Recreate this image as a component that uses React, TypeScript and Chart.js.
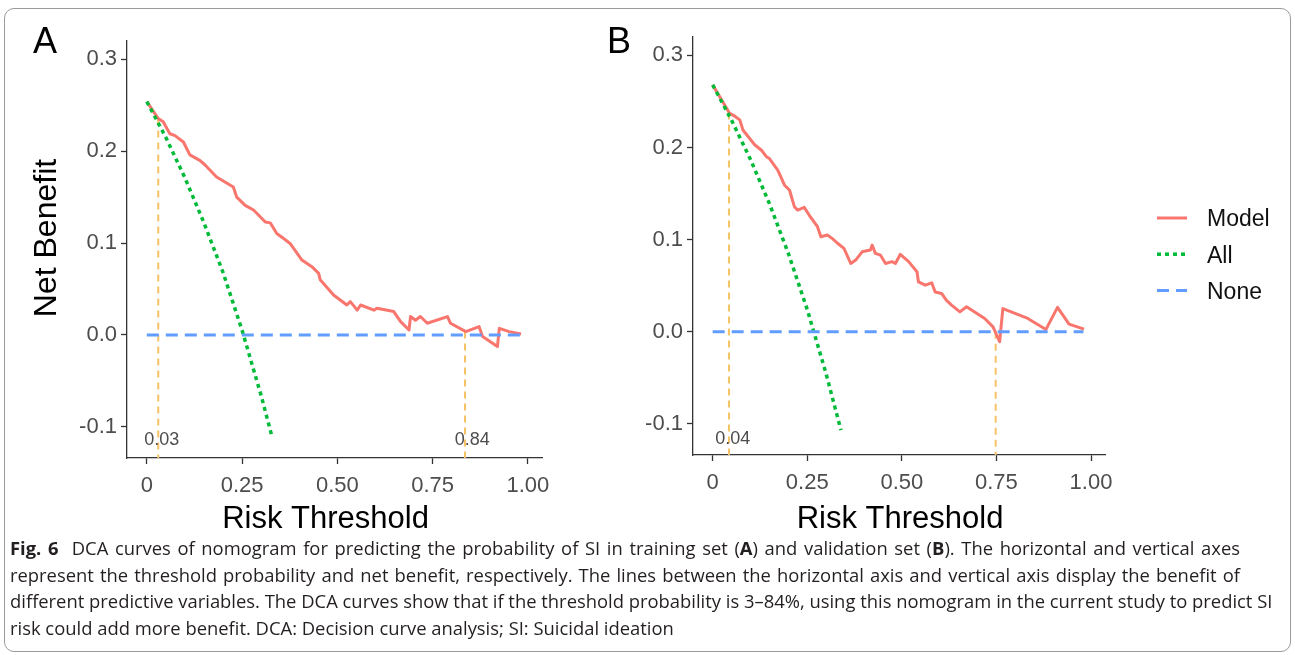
import React, { useEffect, useRef } from "react";
import { Chart, registerables } from "chart.js";

Chart.register(...registerables);

type Pt = [number, number];

// ---------- axes ----------
const xTickValues = [0, 0.25, 0.5, 0.75, 1.0];
const xTickLabels = ["0", "0.25", "0.50", "0.75", "1.00"];
const yTickValues = [-0.1, 0, 0.1, 0.2, 0.3];
const yTickLabels = ["-0.1", "0.0", "0.1", "0.2", "0.3"];
const xRange: Pt = [-0.052, 1.037];
const yRange: Pt = [-0.134, 0.32];
const xTitle = "Risk Threshold";
const yTitle = "Net Benefit";

const seriesNames = ["Model", "All", "None"];

// ---------- panel A (training set) ----------
const modelA: Pt[] = [
  [0, 0.254], [0.03, 0.2355], [0.043, 0.232], [0.0605, 0.219], [0.074, 0.217],
  [0.096, 0.21], [0.113, 0.196], [0.139, 0.19], [0.153, 0.185], [0.183, 0.172],
  [0.227, 0.161], [0.236, 0.15], [0.258, 0.141], [0.28, 0.136], [0.311, 0.123],
  [0.324, 0.122], [0.341, 0.1105], [0.359, 0.105], [0.376, 0.0996], [0.407, 0.0815],
  [0.433, 0.0743], [0.451, 0.067], [0.455, 0.06], [0.49, 0.0435], [0.525, 0.0326],
  [0.534, 0.0362], [0.552, 0.027], [0.561, 0.0326], [0.596, 0.027], [0.604, 0.029],
  [0.648, 0.0254], [0.666, 0.0145], [0.688, 0.0054], [0.692, 0.02], [0.705, 0.016],
  [0.718, 0.02], [0.736, 0.0127], [0.789, 0.02], [0.797, 0.0127], [0.837, 0.0036],
  [0.872, 0.009], [0.881, -0.0018], [0.92, -0.0127], [0.925, 0.0072], [0.951, 0.0036],
  [0.982, 0.001],
];
const allA: Pt[] = [
  [0, 0.254], [0.05, 0.215], [0.1, 0.171], [0.15, 0.122], [0.2, 0.068],
  [0.25, 0.005], [0.3, -0.066], [0.328, -0.11],
];
const noneA: Pt[] = [[0, 0], [0.982, 0]];
const cutoffsA: Pt[] = [[0.03, 0.2355], [0.835, 0.0036]];
const cutoffLabelsA = ["0.03", "0.84"];
const cutoffLabelPosA: Pt[] = [[0.039, -0.1145], [0.854, -0.1145]];

// ---------- panel B (validation set) ----------
const modelB: Pt[] = [
  [0, 0.268], [0.045, 0.237], [0.0585, 0.234], [0.0717, 0.23], [0.08, 0.219],
  [0.111, 0.203], [0.129, 0.197], [0.142, 0.19], [0.15, 0.188], [0.172, 0.1755],
  [0.19, 0.159], [0.203, 0.1538], [0.216, 0.1357], [0.2247, 0.132], [0.242, 0.135],
  [0.255, 0.1266], [0.277, 0.114], [0.286, 0.103], [0.303, 0.105], [0.3166, 0.101],
  [0.33, 0.096], [0.347, 0.0904], [0.365, 0.074], [0.378, 0.0777], [0.395, 0.0867],
  [0.417, 0.0886], [0.4216, 0.094], [0.43, 0.085], [0.4436, 0.083], [0.457, 0.074],
  [0.474, 0.076], [0.483, 0.074], [0.496, 0.084], [0.518, 0.076], [0.54, 0.065],
  [0.544, 0.054], [0.562, 0.0505], [0.579, 0.053], [0.588, 0.043], [0.605, 0.0415],
  [0.618, 0.034], [0.6315, 0.0288], [0.6535, 0.0215], [0.671, 0.027], [0.719, 0.0143],
  [0.741, 0.0052], [0.7585, -0.011], [0.767, 0.025], [0.833, 0.0143], [0.881, 0.0024],
  [0.9115, 0.0263], [0.942, 0.0082], [0.9816, 0.0027],
];
const allB: Pt[] = [
  [0, 0.268], [0.05, 0.2295], [0.1, 0.187], [0.15, 0.139], [0.2, 0.085],
  [0.25, 0.024], [0.3, -0.046], [0.339, -0.107],
];
const noneB: Pt[] = [[0, 0], [0.98, 0]];
const cutoffsB: Pt[] = [[0.043, 0.238], [0.748, 0.0]];
const cutoffLabelsB = ["0.04"];
const cutoffLabelPosB: Pt[] = [[0.053, -0.117]];

// ---------- styles ----------
const FONT = '"Liberation Sans", Arial, Helvetica, sans-serif';
const RED = "#F8766D";
const GREEN = "#00BA38";
const BLUE = "#619CFF";
const ORANGE = "#F7C165";
const AXIS = "#333333";
const TICK = "#4D4D4D";

const toXY = (pts: Pt[]) => pts.map(([x, y]) => ({ x, y }));

interface PanelSpec {
  letter: string;
  model: Pt[];
  all: Pt[];
  none: Pt[];
  cutoffs: Pt[];
  cutoffLabels: string[];
  cutoffLabelPos: Pt[];
  yTitle: boolean;
  legend: boolean;
  yScaleWidth: number;
  xScaleHeight: number;
  pad: { top: number; right: number; left: number; bottom: number };
  letterX: number;
  xTitleShift: number;
}

function buildChart(canvas: HTMLCanvasElement, p: PanelSpec) {
  const datasets: any[] = [
    { label: "None", data: toXY(p.none), borderColor: BLUE, borderWidth: 3, borderDash: [12, 7] },
    { label: "All", data: toXY(p.all), borderColor: GREEN, borderWidth: 3.5, borderDash: [4, 4] },
    { label: "Model", data: toXY(p.model), borderColor: RED, borderWidth: 3 },
    ...p.cutoffs.map(([cx, cy], i) => ({
      label: "cutoff" + i,
      data: toXY([[cx, cy], [cx, yRange[0]]]),
      borderColor: ORANGE,
      borderWidth: 2,
      borderDash: [7, 5],
    })),
  ].map((d) => ({ ...d, pointRadius: 0, tension: 0, fill: false, borderCapStyle: "butt", borderJoinStyle: "round" }));

  const overlay = {
    id: "overlay",
    afterDraw(chart: any) {
      const { ctx, chartArea } = chart;
      const xs = chart.scales.x;
      const ys = chart.scales.y;
      ctx.save();
      // cutoff labels
      ctx.font = `18px ${FONT}`;
      ctx.fillStyle = TICK;
      ctx.textAlign = "center";
      ctx.textBaseline = "middle";
      p.cutoffLabels.forEach((t, i) => {
        const [lx, ly] = p.cutoffLabelPos[i];
        ctx.fillText(t, xs.getPixelForValue(lx), ys.getPixelForValue(ly));
      });
      // axis titles
      ctx.fillStyle = "#000";
      ctx.font = `31px ${FONT}`;
      ctx.fillText(xTitle, (chartArea.left + chartArea.right) / 2 + p.xTitleShift, 519);
      if (p.yTitle) {
        ctx.save();
        ctx.font = `32px ${FONT}`;
        ctx.translate(47, 238);
        ctx.rotate(-Math.PI / 2);
        ctx.fillText(yTitle, 0, 0);
        ctx.restore();
      }
      // panel letter
      ctx.font = `36px ${FONT}`;
      ctx.fillStyle = "#000";
      ctx.textAlign = "left";
      ctx.textBaseline = "alphabetic";
      ctx.fillText(p.letter, p.letterX, 53);
      // legend
      if (p.legend) {
        const x0 = chartArea.right + 52;
        const y0 = chartArea.top + 181;
        seriesNames.forEach((name, i) => {
          const ds = chart.data.datasets.find((d: any) => d.label === name);
          const y = y0 + i * 36.2;
          ctx.save();
          ctx.strokeStyle = ds.borderColor;
          ctx.lineWidth = ds.borderWidth;
          ctx.setLineDash(ds.borderDash || []);
          ctx.beginPath();
          ctx.moveTo(x0, y);
          ctx.lineTo(x0 + 30, y);
          ctx.stroke();
          ctx.restore();
          ctx.font = `23px ${FONT}`;
          ctx.fillStyle = "#111";
          ctx.textAlign = "left";
          ctx.textBaseline = "middle";
          ctx.fillText(name, x0 + 50, y + 2);
        });
      }
      ctx.restore();
    },
  };

  return new Chart(canvas, {
    type: "line",
    data: { datasets },
    plugins: [overlay],
    options: {
      animation: false,
      responsive: false,
      maintainAspectRatio: false,
      events: [],
      layout: { padding: p.pad },
      plugins: { legend: { display: false }, tooltip: { enabled: false }, title: { display: false } },
      scales: {
        x: {
          type: "linear",
          min: xRange[0],
          max: xRange[1],
          afterBuildTicks: (s: any) => {
            s.ticks = xTickValues.map((v) => ({ value: v }));
          },
          afterFit: (s: any) => {
            s.height = p.xScaleHeight;
          },
          ticks: {
            autoSkip: false,
            maxRotation: 0,
            padding: 9,
            color: TICK,
            font: { family: FONT, size: 22 },
            callback: (_v: any, i: number) => xTickLabels[i],
          },
          grid: { display: true, drawOnChartArea: false, drawTicks: true, tickLength: 6, color: AXIS, tickWidth: 1.3 },
          border: { display: true, color: AXIS, width: 1.3 },
          title: { display: false },
        },
        y: {
          type: "linear",
          min: yRange[0],
          max: yRange[1],
          afterBuildTicks: (s: any) => {
            s.ticks = yTickValues.map((v) => ({ value: v }));
          },
          afterFit: (s: any) => {
            s.width = p.yScaleWidth;
          },
          ticks: {
            padding: 4,
            color: TICK,
            font: { family: FONT, size: 22 },
            callback: (_v: any, i: number) => yTickLabels[i],
          },
          grid: { display: true, drawOnChartArea: false, drawTicks: true, tickLength: 6, color: AXIS, tickWidth: 1.3 },
          border: { display: true, color: AXIS, width: 1.3 },
          title: { display: false },
        },
      },
    } as any,
  });
}

const panelA: PanelSpec = {
  letter: "A",
  model: modelA,
  all: allA,
  none: noneA,
  cutoffs: cutoffsA,
  cutoffLabels: cutoffLabelsA,
  cutoffLabelPos: cutoffLabelPosA,
  yTitle: true,
  legend: false,
  yScaleWidth: 127,
  xScaleHeight: 82,
  pad: { top: 41, right: 18, left: 0, bottom: 0 },
  letterX: 33,
  xTitleShift: -9,
};

const panelB: PanelSpec = {
  letter: "B",
  model: modelB,
  all: allB,
  none: noneB,
  cutoffs: cutoffsB,
  cutoffLabels: cutoffLabelsB,
  cutoffLabelPos: cutoffLabelPosB,
  yTitle: false,
  legend: true,
  yScaleWidth: 113,
  xScaleHeight: 85,
  pad: { top: 37, right: 190, left: 0, bottom: 0 },
  letterX: 27,
  xTitleShift: 1,
};

function Panel({ spec, left, width }: { spec: PanelSpec; left: number; width: number }) {
  const ref = useRef<HTMLCanvasElement>(null);
  useEffect(() => {
    if (!ref.current) return;
    const c = buildChart(ref.current, spec);
    return () => c.destroy();
  }, [spec]);
  return (
    <canvas
      ref={ref}
      width={width}
      height={540}
      style={{ position: "absolute", left, top: 0, width, height: 540 }}
    />
  );
}

const captionFont = '"Open Sans", "Lato", sans-serif';
const justified: React.CSSProperties = { width: 1230, textAlign: "justify", textAlignLast: "justify" as any };

export default function App() {
  return (
    <div style={{ position: "absolute", left: 0, top: 0, width: 1295, height: 655, background: "#fff", overflow: "hidden" }}>
      <div
        style={{
          position: "absolute",
          left: 4,
          top: 8,
          width: 1285,
          height: 642,
          border: "1px solid #9a9a9a",
          borderRadius: 10,
        }}
      />
      <Panel spec={panelA} left={0} width={560} />
      <Panel spec={panelB} left={580} width={715} />
      <div
        style={{
          position: "absolute",
          left: 10,
          top: 535,
          fontFamily: captionFont,
          fontSize: 18.4,
          lineHeight: "26.5px",
          color: "#231F20",
          whiteSpace: "nowrap",
        }}
      >
        <div style={justified}>
          <b>Fig. 6</b>&nbsp;&nbsp;DCA curves of nomogram for predicting the probability of SI in training set (<b>A</b>) and
          validation set (<b>B</b>). The horizontal and vertical axes
        </div>
        <div style={justified}>
          represent the threshold probability and net benefit, respectively. The lines between the horizontal axis and vertical
          axis display the benefit of
        </div>
        <div style={justified}>
          different predictive variables. The DCA curves show that if the threshold probability is 3–84%, using this nomogram in
          the current study to predict SI
        </div>
        <div>risk could add more benefit. DCA: Decision curve analysis; SI: Suicidal ideation</div>
      </div>
    </div>
  );
}
